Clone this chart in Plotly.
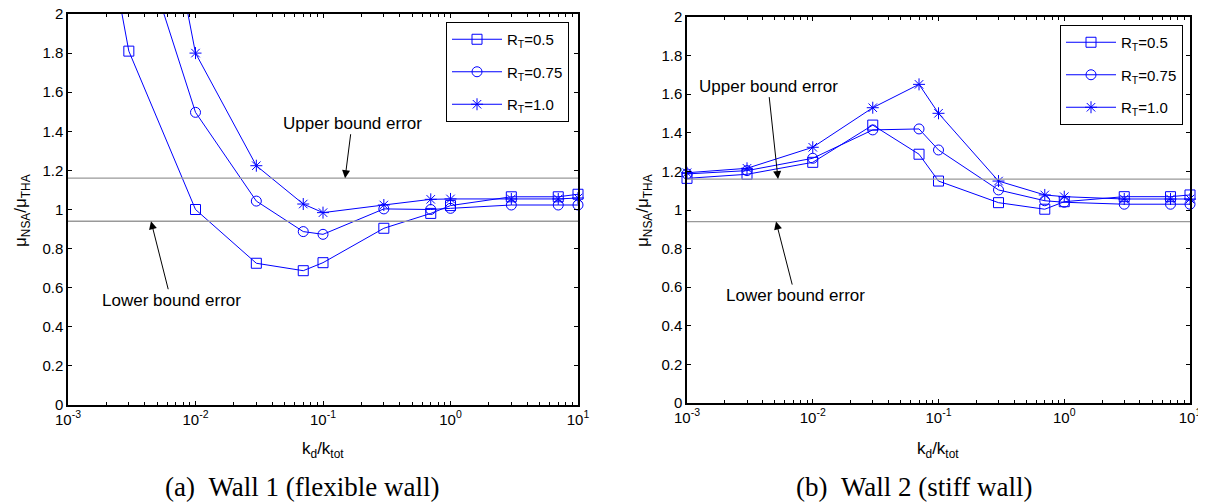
import plotly.graph_objects as go

# ---------------- data ----------------
kd_ratio = [0.001, 0.003, 0.01, 0.03, 0.07, 0.1, 0.3, 0.7, 1, 3, 7, 10]

# Wall 1 (flexible wall) - first points exceed the plotted range
w1_rt050 = [3.5, 1.81, 1.00, 0.725, 0.687, 0.728, 0.904, 0.98, 1.02, 1.065, 1.065, 1.078]
w1_rt075 = [4.0, 2.56, 1.497, 1.043, 0.887, 0.873, 1.003, 1.0, 1.006, 1.023, 1.023, 1.023]
w1_rt100 = [5.0, 3.57, 1.80, 1.224, 1.028, 0.984, 1.023, 1.052, 1.054, 1.054, 1.054, 1.059]

# Wall 2 (stiff wall)
w2_rt050 = [1.164, 1.185, 1.247, 1.44, 1.289, 1.150, 1.038, 1.004, 1.043, 1.069, 1.069, 1.078]
w2_rt075 = [1.187, 1.204, 1.268, 1.415, 1.42, 1.311, 1.104, 1.048, 1.04, 1.03, 1.03, 1.03]
w2_rt100 = [1.193, 1.216, 1.325, 1.53, 1.651, 1.501, 1.15, 1.078, 1.069, 1.057, 1.057, 1.057]

series_names = ["R<sub>T</sub>=0.5", "R<sub>T</sub>=0.75", "R<sub>T</sub>=1.0"]
symbols = ["square-open", "circle-open", "asterisk-open"]

upper_bound = 1.16
lower_bound = 0.94

x_tickvals = [0.001, 0.01, 0.1, 1, 10]
x_ticktext = ["10<sup>-3</sup>", "10<sup>-2</sup>", "10<sup>-1</sup>", "10<sup>0</sup>", "10<sup>1</sup>"]
minor_tickvals = [m * d for d in (0.001, 0.01, 0.1, 1) for m in range(2, 10)]

# ---------------- figure ----------------
BLUE = "#0000ff"
fig = go.Figure()

panels = [
    ("x", "y", "legend", [w1_rt050, w1_rt075, w1_rt100]),
    ("x2", "y2", "legend2", [w2_rt050, w2_rt075, w2_rt100]),
]

for xa, ya, leg, data in panels:
    for name, sym, vals in zip(series_names, symbols, data):
        fig.add_trace(go.Scatter(
            x=kd_ratio, y=vals, xaxis=xa, yaxis=ya, name=name, legend=leg,
            legendgroup=leg + name,
            mode="lines+markers", cliponaxis=False,
            line=dict(color=BLUE, width=1),
            marker=dict(symbol=sym, size=10, color=BLUE, line=dict(color=BLUE, width=1)),
        ))
    for yv in (upper_bound, lower_bound):
        fig.add_trace(go.Scatter(
            x=[kd_ratio[0], kd_ratio[-1]], y=[yv, yv], xaxis=xa, yaxis=ya,
            mode="lines", showlegend=False, hoverinfo="skip",
            line=dict(color="#999999", width=1.3),
        ))

# page body has an 8px margin: lay out in screen pixels and shift
OFF = 8
W, H = 1206 - OFF, 502 - OFF


def px(x):
    return (x - OFF) / W


def py(y):
    return 1 - (y - OFF) / H


font_main = dict(family="Liberation Sans, Arial, sans-serif", size=15, color="black")


def xaxis(domain, anchor):
    return dict(
        domain=domain, anchor=anchor, type="log", range=[-3, 1], automargin=False,
        tickmode="array", tickvals=x_tickvals, ticktext=x_ticktext,
        ticks="inside", ticklen=4, tickcolor="black", tickwidth=1,
        minor=dict(tickmode="array", tickvals=minor_tickvals, ticks="inside", ticklen=3,
                   tickcolor="black", tickwidth=1, showgrid=False),
        showline=True, linecolor="black", linewidth=1.5, mirror="ticks",
        showgrid=False, zeroline=False, tickfont=font_main, ticklabeloverflow="allow",
    )


def yaxis(domain, anchor):
    return dict(
        domain=domain, anchor=anchor, range=[0, 2], dtick=0.2, tick0=0, automargin=False,
        ticks="inside", ticklen=4, tickcolor="black", tickwidth=1,
        showline=True, linecolor="black", linewidth=1.5, mirror="ticks",
        showgrid=False, zeroline=False, tickfont=font_main, ticklabeloverflow="allow",
    )


legend_style = dict(
    bgcolor="white", bordercolor="black", borderwidth=1,
    font=dict(family="Liberation Sans, Arial, sans-serif", size=15, color="black"),
    xanchor="left", yanchor="top", itemwidth=50, tracegroupgap=10,
    xref="paper", yref="paper",
)

fig.update_layout(
    width=W, height=H, margin=dict(l=0, r=0, t=0, b=0, autoexpand=False),
    paper_bgcolor="white", plot_bgcolor="white",
    font=font_main,
    xaxis=xaxis([px(68), px(578)], "y"),
    yaxis=yaxis([py(405), py(14)], "x"),
    xaxis2=xaxis([px(687), px(1190)], "y2"),
    yaxis2=yaxis([py(403), py(17)], "x2"),
    legend=dict(legend_style, x=px(446), y=py(22)),
    legend2=dict(legend_style, x=px(1060), y=py(25)),
    showlegend=True,
)

ann_font = dict(family="Liberation Sans, Arial, sans-serif", size=17, color="black")
arrow_common = dict(showarrow=True, arrowhead=2, arrowsize=1.6, arrowwidth=1,
                    arrowcolor="black", font=ann_font)

annotations = [
    dict(text="Upper bound error", xref="x", yref="y", x=-0.827, y=upper_bound, ax=7, ay=-55, **arrow_common),
    dict(text="Lower bound error", xref="x", yref="y", x=-2.349, y=lower_bound, ax=20, ay=79, **arrow_common),
    dict(text="Upper bound error", xref="x2", yref="y2", x=-2.276, y=upper_bound, ax=-10, ay=-93, **arrow_common),
    dict(text="Lower bound error", xref="x2", yref="y2", x=-2.292, y=lower_bound, ax=19, ay=74, **arrow_common),
]

title_font = dict(family="Liberation Sans, Arial, sans-serif", size=17, color="black")
for xp in (22, 644):
    annotations.append(dict(text="μ<sub>NSA</sub>/μ<sub>THA</sub>", xref="paper", yref="paper",
                            x=px(xp), y=py(211), textangle=-90, showarrow=False,
                            xanchor="center", yanchor="middle", font=title_font))
for xp in (323, 938):
    annotations.append(dict(text="k<sub>d</sub>/k<sub>tot</sub>", xref="paper", yref="paper",
                            x=px(xp), y=py(450), showarrow=False,
                            xanchor="center", yanchor="middle", font=title_font))

cap_font = dict(family="Liberation Serif, Times New Roman, serif", size=27, color="black")
captions = [("(a)\u00a0\u00a0Wall 1 (flexible wall)", 302), ("(b)\u00a0\u00a0Wall 2 (stiff wall)", 914)]
for txt, xp in captions:
    annotations.append(dict(text=txt, xref="paper", yref="paper", x=px(xp), y=py(487),
                            showarrow=False, xanchor="center", yanchor="middle", font=cap_font))

fig.update_layout(annotations=annotations)

fig.write_html("out.html")
